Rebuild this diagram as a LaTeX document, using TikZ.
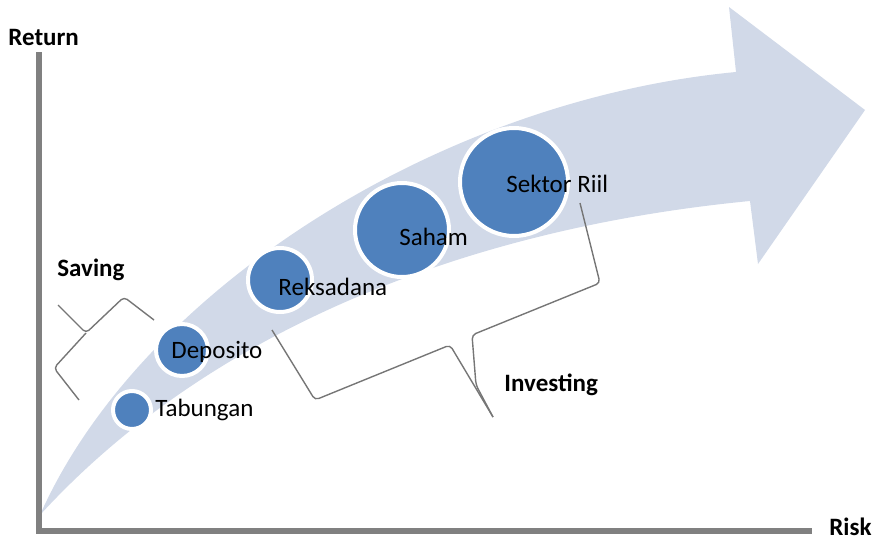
\documentclass[tikz,border=0pt]{standalone}
\usepackage{fontspec}
\setmainfont{Carlito}
\usepackage{tikz}
\usetikzlibrary{positioning}
\definecolor{bandblue}{RGB}{209,217,232}
\definecolor{ballblue}{RGB}{79,129,189}
\definecolor{axisgray}{RGB}{128,128,128}
\definecolor{bracegray}{RGB}{118,118,118}

\begin{document}
\begin{tikzpicture}[x=0.5pt,y=-0.5pt,
ball/.style={circle,fill=ballblue,draw=white,line width=2pt,inner sep=0pt},
item/.style={font=\fontsize{12.5}{15}\selectfont,inner sep=0pt,anchor=west},
head/.style={font=\bfseries\fontsize{12.5}{15}\selectfont,inner sep=0pt,anchor=west},
brace/.style={draw=bracegray,line width=0.7pt,rounded corners=2pt}]
\useasboundingbox (0,0) rectangle (873,541);
\fill[bandblue] (40,515) .. controls (140,290) and (440,100) .. (736,72)
  -- (729,7) -- (865,110) -- (758,264) -- (750,201)
  .. controls (450,230) and (200,340) .. (40,515) -- cycle;
\draw[axisgray,line width=3pt] (39,52) -- (39,531) -- (812,531);
\node (ret) [head] at (8,37) {Return};
\node (risk) [head] at (829,527) {Risk};

\node (tab) [ball,minimum size=19pt] at (132,410) {};
\node (dep) [ball,minimum size=26pt] at (182,350) {};
\node (rek) [ball,minimum size=32pt] at (280,280) {};
\node (sah) [ball,minimum size=47pt] at (402,230) {};
\node (sek) [ball,minimum size=54pt] at (514,182) {};

\node (tabl) [item,right=1pt of tab] {Tabungan};
\node (depl) [item] at (171,352) {Deposito};
\node (rekl) [item] at (278,287) {Reksadana};
\node (sahl) [item] at (399,237) {Saham};
\node (sekl) [item] at (506,184) {Sektor Riil};

\node (sav) [head] at (57,270) {Saving};
\node (inv) [head] at (504,385) {Investing};

\coordinate (savtip) at (58,305);
\coordinate (savcusp) at (86,333);
\draw[brace] (154,320) -- (124,297) -- (savcusp) -- (savtip);
\draw[brace] (savcusp) -- (54,368) -- (79,400);

\coordinate (invtip) at (493,417);
\draw[brace] (272,330) -- (315,400) -- (450,345) -- (invtip);
\draw[brace] (580,203) -- (600,283) -- (472,335) -- (476,385) -- (invtip);
\end{tikzpicture}
\end{document}
